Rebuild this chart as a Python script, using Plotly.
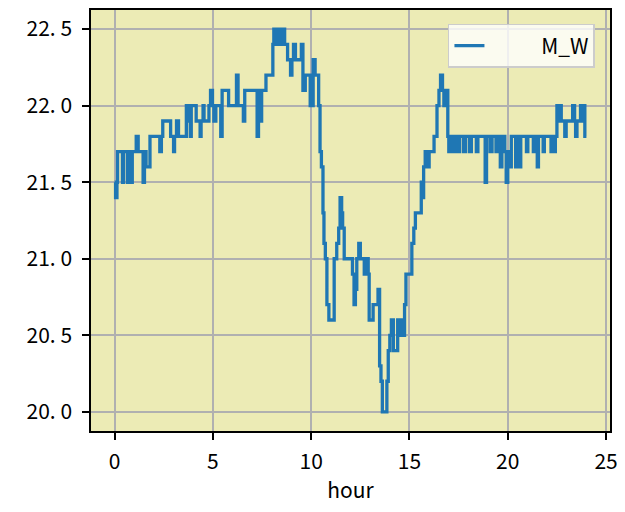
import plotly.graph_objects as go

# breakpoints of the M_W reading (hour, value), held until the next one
hours = [
    0.00, 0.05, 0.12, 0.15, 0.40, 0.45, 0.65, 0.70, 0.85, 0.90,
    1.10, 1.20, 1.45, 1.52, 1.60, 1.80, 2.30, 2.38, 2.45, 2.85,
    3.00, 3.05, 3.15, 3.25, 3.65, 3.80, 3.85, 3.90, 4.15, 4.35,
    4.40, 4.50, 4.55, 4.80, 4.88, 4.98, 5.05, 5.15, 5.40, 5.47,
    5.80, 6.20, 6.28, 6.55, 6.62, 7.25, 7.32, 7.42, 7.48, 7.70,
    8.05, 8.10, 8.25, 8.30, 8.45, 8.55, 8.65, 8.80, 8.95, 9.02,
    9.10, 9.20, 9.50, 9.58, 9.70, 9.95, 10.10, 10.20, 10.38, 10.45,
    10.52, 10.60, 10.65, 10.72, 10.80, 10.90, 11.17, 11.30, 11.40, 11.47,
    11.55, 11.60, 11.68, 12.10, 12.18, 12.25, 12.32, 12.42, 12.50, 12.70,
    12.80, 12.90, 12.95, 13.15, 13.40, 13.48, 13.55, 13.62, 13.85, 13.92,
    14.00, 14.08, 14.18, 14.40, 14.48, 14.58, 14.68, 14.75, 14.82, 15.12,
    15.22, 15.30, 15.60, 15.65, 15.72, 15.80, 15.95, 16.00, 16.25, 16.40,
    16.50, 16.58, 16.68, 16.75, 16.85, 16.95, 17.00, 17.10, 17.20, 17.30,
    17.45, 17.55, 17.75, 17.85, 18.05, 18.15, 18.40, 18.48, 18.85, 18.92,
    19.10, 19.20, 19.40, 19.48, 19.62, 19.70, 19.85, 19.92, 20.00, 20.12,
    20.18, 20.40, 20.46, 20.55, 20.60, 20.66, 20.95, 21.02, 21.30, 21.38,
    21.50, 21.56, 21.80, 21.86, 22.20, 22.27, 22.35, 22.42, 22.50, 22.58,
    22.65, 22.72, 22.90, 22.97, 23.30, 23.40, 23.45, 23.52, 23.70, 23.80,
    23.85, 23.92, 24.00,
]
m_w = [
    21.5, 21.4, 21.5, 21.7, 21.5, 21.7, 21.5, 21.7, 21.5, 21.7,
    21.8, 21.7, 21.5, 21.7, 21.6, 21.8, 21.7, 21.8, 21.9, 21.8,
    21.7, 21.8, 21.9, 21.8, 22.0, 21.9, 21.8, 22.0, 21.9, 21.8,
    21.9, 22.0, 21.9, 22.0, 22.1, 22.0, 21.9, 22.0, 21.8, 22.1,
    22.0, 22.2, 22.0, 21.9, 22.1, 21.8, 22.1, 21.9, 22.1, 22.2,
    22.4, 22.5, 22.4, 22.5, 22.4, 22.5, 22.4, 22.3, 22.2, 22.3,
    22.4, 22.3, 22.4, 22.1, 22.2, 22.0, 22.3, 22.2, 22.0, 21.7,
    21.6, 21.3, 21.1, 21.0, 20.7, 20.6, 21.0, 21.1, 21.2, 21.4,
    21.3, 21.2, 21.0, 20.9, 20.7, 20.8, 21.0, 21.1, 21.0, 20.9,
    21.0, 20.9, 20.6, 20.7, 20.8, 20.3, 20.2, 20.0, 20.2, 20.4,
    20.5, 20.6, 20.4, 20.6, 20.5, 20.6, 20.5, 20.7, 20.9, 21.1,
    21.2, 21.3, 21.5, 21.4, 21.6, 21.7, 21.6, 21.7, 21.8, 22.0,
    22.1, 22.2, 22.1, 22.0, 22.1, 21.8, 21.7, 21.8, 21.7, 21.8,
    21.7, 21.8, 21.7, 21.8, 21.7, 21.8, 21.7, 21.8, 21.5, 21.8,
    21.7, 21.8, 21.7, 21.8, 21.6, 21.8, 21.7, 21.5, 21.7, 21.6,
    21.8, 21.6, 21.7, 21.8, 21.6, 21.8, 21.7, 21.8, 21.7, 21.8,
    21.6, 21.8, 21.7, 21.8, 21.7, 21.8, 21.7, 21.8, 22.0, 21.9,
    22.0, 21.9, 21.8, 21.9, 22.0, 21.9, 21.8, 21.9, 22.0, 21.9,
    22.0, 21.8, 21.8,
]

x_ticks = [0, 5, 10, 15, 20, 25]
y_ticks = [20.0, 20.5, 21.0, 21.5, 22.0, 22.5]
y_labels = ["20. 0", "20. 5", "21. 0", "21. 5", "22. 0", "22. 5"]

font = "Noto Sans CJK JP"

fig = go.Figure()
fig.add_trace(go.Scatter(
    x=hours, y=m_w, mode="lines", line_shape="hv",
    name="\u00a0" * 11 + "M_W",
    line=dict(color="#1f77b4", width=3.3),
))

# the page body keeps an 8px default margin, so the figure is 8px smaller
fig.update_layout(
    width=617, height=504,
    margin=dict(l=83, r=15, t=2, b=81),
    paper_bgcolor="white",
    plot_bgcolor="#ecebb5",
    font=dict(family=font, size=21, color="black"),
    showlegend=True,
    legend=dict(
        x=0.971, y=0.967, xanchor="right", yanchor="top",
        bgcolor="rgba(255,255,255,0.8)", bordercolor="#cccccc", borderwidth=1.5,
        font=dict(family=font, size=21),
    ),
)
axis_common = dict(
    showline=True, linecolor="black", linewidth=1.5, mirror=True,
    ticks="outside", ticklen=7, tickwidth=1.5, tickcolor="black",
    showgrid=True, gridcolor="#b0b0b0", gridwidth=1.6, zeroline=False,
    automargin=False,
)
fig.update_xaxes(
    range=[-1.2, 25.2], tickvals=x_ticks, ticklabelstandoff=4,
    title=dict(text="hour", standoff=9, font=dict(family=font, size=21)),
    **axis_common,
)
fig.update_yaxes(
    range=[19.875, 22.625], tickvals=y_ticks, ticktext=y_labels,
    ticklabelstandoff=6,
    **axis_common,
)

fig.write_html("out.html")
